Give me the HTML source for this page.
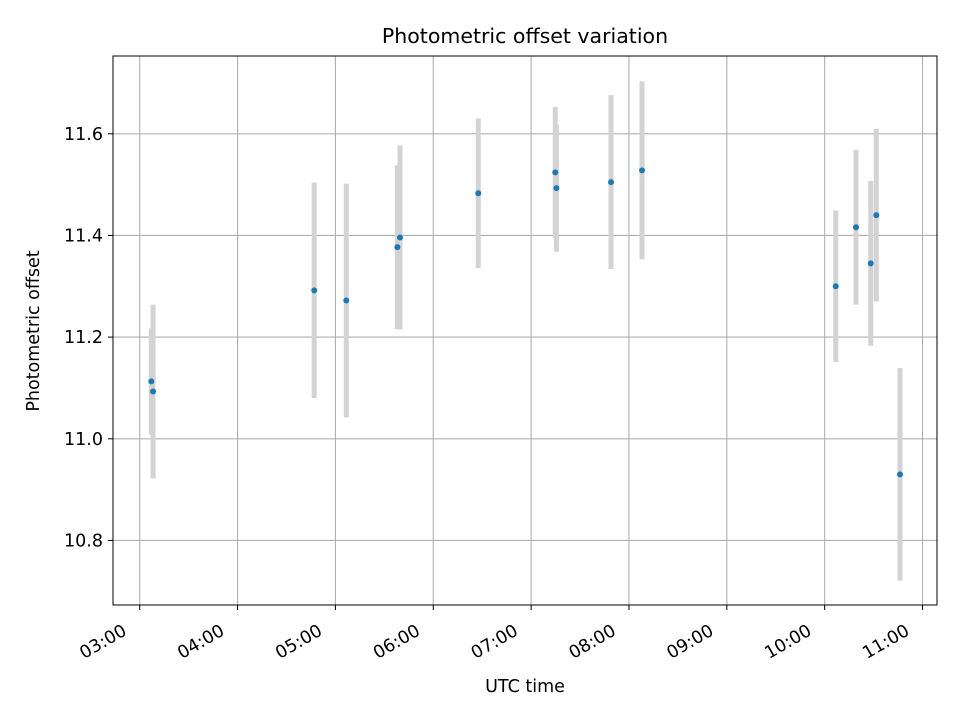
<!DOCTYPE html>
<html><head><meta charset="utf-8"><style>
html,body{margin:0;padding:0;background:#fff;}
svg{display:block;font-family:"DejaVu Sans","Liberation Sans",sans-serif;}
</style></head><body>
<svg id="chart" width="960" height="720" viewBox="0 0 960 720" xmlns="http://www.w3.org/2000/svg">
<rect width="960" height="720" fill="#fff"/>
<text x="525" y="43" text-anchor="middle" font-size="20.5">Photometric offset variation</text>
<g id="grid"></g><g id="bars"></g><g id="pts"></g><g id="ticks"></g>
<rect x="113" y="56" width="824" height="549" fill="none" stroke="#000" stroke-width="1"/>
<text x="525" y="692" text-anchor="middle" font-size="17.5">UTC time</text>
<text transform="translate(39,331) rotate(-90)" text-anchor="middle" font-size="17.5">Photometric offset</text>
</svg>
<script>
const times = ["03:07:06","03:08:10","04:47:00","05:06:40","05:38:00","05:39:36","06:27:36","07:14:48","07:15:30","07:49:00","08:08:00","10:06:48","10:19:12","10:28:15","10:31:40","10:46:12"];
const offsets = [11.113,11.093,11.292,11.272,11.377,11.396,11.483,11.524,11.493,11.505,11.528,11.300,11.416,11.345,11.440,10.930];
const errors = [0.104,0.171,0.212,0.230,0.161,0.181,0.147,0.129,0.125,0.171,0.175,0.149,0.152,0.162,0.170,0.209];
const xTickLabels = ["03:00","04:00","05:00","06:00","07:00","08:00","09:00","10:00","11:00"];
const yTickLabels = ["10.8","11.0","11.2","11.4","11.6"];
const X0=113,X1=937,Y0=56,Y1=605, XMIN=2.727, XMAX=11.148, YMIN=10.673, YMAX=11.753;
const NS="http://www.w3.org/2000/svg";
function hrs(s){const p=s.split(":").map(Number);return p[0]+p[1]/60+(p[2]||0)/3600;}
function sx(h){return X0+(h-XMIN)/(XMAX-XMIN)*(X1-X0);}
function sy(v){return Y1-(v-YMIN)/(YMAX-YMIN)*(Y1-Y0);}
function mk(tag,attrs,parent){const e=document.createElementNS(NS,tag);for(const k in attrs)e.setAttribute(k,attrs[k]);parent.appendChild(e);return e;}
const grid=document.getElementById("grid"),ticks=document.getElementById("ticks"),bars=document.getElementById("bars"),pts=document.getElementById("pts");
xTickLabels.forEach(l=>{
  const x=sx(hrs(l));
  const g=mk("line",{x1:x,x2:x,y1:Y0,y2:Y1,stroke:"#b0b0b0","stroke-width":1.1},grid);
  
  
  mk("line",{x1:x,x2:x,y1:Y1,y2:Y1+5,stroke:"#000"},ticks);
  const t=mk("text",{x:0,y:0,"text-anchor":"end","font-size":"17.5",transform:`translate(${x-12},${Y1+29}) rotate(-30)`},ticks);
  t.textContent=l;
  
  
});
yTickLabels.forEach(l=>{
  const y=sy(parseFloat(l));
  const g=mk("line",{x1:X0,x2:X1,y1:y,y2:y,stroke:"#b0b0b0","stroke-width":1.1},grid);
  
  
  mk("line",{x1:X0-5,x2:X0,y1:y,y2:y,stroke:"#000"},ticks);
  const t=mk("text",{x:X0-10,y:y+6,"text-anchor":"end","font-size":"17.5"},ticks);
  t.textContent=l;
  
  
});
times.forEach((s,i)=>{
  const x=sx(hrs(s));
  const b=mk("line",{x1:x,x2:x,y1:sy(offsets[i]+errors[i]),y2:sy(offsets[i]-errors[i]),stroke:"#d3d3d3","stroke-width":5},bars);
  
  
  const c=mk("circle",{cx:x,cy:sy(offsets[i]),r:3,fill:"#1f77b4"},pts);
  
  
});
</script>
</body></html>
